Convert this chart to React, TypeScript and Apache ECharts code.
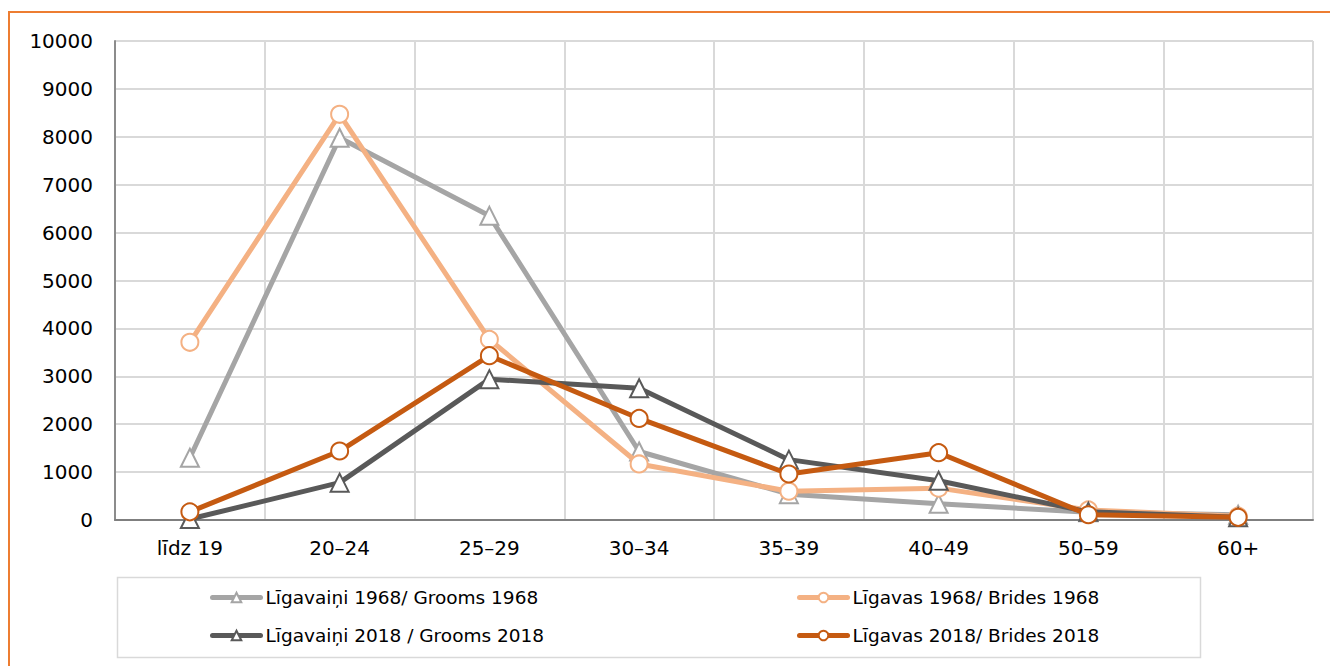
import React, { useEffect, useRef } from "react";
import * as echarts from "echarts";

const categories = ["līdz 19", "20–24", "25–29", "30–34", "35–39", "40–49", "50–59", "60+"];
const grooms1968 = [1300, 7980, 6350, 1430, 540, 340, 160, 110];
const brides1968 = [3710, 8470, 3770, 1170, 600, 665, 210, 80];
const grooms2018 = [20, 780, 2940, 2750, 1260, 820, 170, 60];
const brides2018 = [170, 1440, 3430, 2120, 960, 1405, 110, 55];
const yTicks = { min: 0, max: 10000, interval: 1000 };

const names = {
  g68: "Līgavaiņi 1968/ Grooms 1968",
  b68: "Līgavas 1968/ Brides 1968",
  g18: "Līgavaiņi 2018 / Grooms 2018",
  b18: "Līgavas 2018/ Brides 2018",
};

const FONT = "DejaVu Sans";

export default function App() {
  const ref = useRef<HTMLDivElement>(null);
  useEffect(() => {
    if (!ref.current) return;
    const chart = echarts.init(ref.current, null, { renderer: "svg" });
    const mkSeries = (name: string, data: number[], color: string, symbol: string, size: number, z: number) => ({
      name,
      type: "line",
      data,
      z,
      symbol,
      symbolSize: size,
      showAllSymbol: true,
      lineStyle: { color, width: 5 },
      itemStyle: { color: "#ffffff", borderColor: color, borderWidth: 2 },
    });
    const mkLegend = (name: string, left: number, top: number) => ({
      data: [name],
      left,
      top,
      orient: "horizontal",
      itemWidth: 48,
      itemHeight: 12,
      padding: 0,
      selectedMode: false,
      lineStyle: { width: 5, cap: "round" },
      textStyle: { fontFamily: FONT, fontSize: 18.5, color: "#000" },
    });
    chart.setOption({
      animation: false,
      backgroundColor: "#ffffff",
      grid: { left: 115, right: 17, top: 41, bottom: 146, containLabel: false },
      xAxis: {
        type: "category",
        data: categories,
        boundaryGap: true,
        axisLine: { lineStyle: { color: "#7f7f7f", width: 2 } },
        axisTick: { show: false },
        splitLine: { show: true, lineStyle: { color: "#d9d9d9", width: 2 } },
        axisLabel: { fontFamily: FONT, fontSize: 20, color: "#000", margin: 18 },
      },
      yAxis: {
        type: "value",
        min: yTicks.min,
        max: yTicks.max,
        interval: yTicks.interval,
        axisLine: { show: true, lineStyle: { color: "#8c8c8c", width: 2 } },
        axisTick: { show: false },
        splitLine: { show: true, lineStyle: { color: "#d9d9d9", width: 2 } },
        axisLabel: {
          fontFamily: FONT,
          fontSize: 20,
          color: "#000",
          margin: 22,
          formatter: (v: number) => String(v),
        },
      },
      legend: [
        mkLegend(names.g68, 210, 588),
        mkLegend(names.g18, 210, 626),
        mkLegend(names.b68, 797, 588),
        mkLegend(names.b18, 797, 626),
      ],
      graphic: [
        {
          type: "rect",
          shape: { x: 9, y: 12, width: 1400, height: 800 },
          style: { fill: "none", stroke: "#ED7D31", lineWidth: 2 },
          silent: true,
        },
        {
          type: "rect",
          shape: { x: 117.5, y: 577.5, width: 1083, height: 80 },
          style: { fill: "none", stroke: "#d9d9d9", lineWidth: 1.5 },
          silent: true,
        },
      ],
      series: [
        mkSeries(names.g68, grooms1968, "#a5a5a5", "triangle", 18, 2),
        mkSeries(names.b68, brides1968, "#f4b183", "circle", 17, 3),
        mkSeries(names.g18, grooms2018, "#595959", "triangle", 18, 4),
        mkSeries(names.b18, brides2018, "#c55a11", "circle", 17, 5),
      ],
    });
    return () => chart.dispose();
  }, []);
  return <div ref={ref} style={{ position: "absolute", left: 0, top: 0, width: 1330, height: 666 }} />;
}
